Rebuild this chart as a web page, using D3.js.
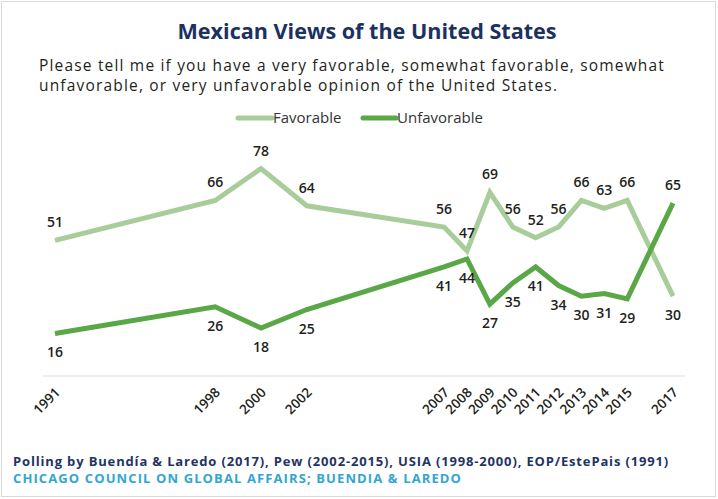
<!DOCTYPE html>
<html>
<head>
<meta charset="utf-8">
<script src="https://cdn.jsdelivr.net/npm/d3@7/dist/d3.min.js"></script>
<style>
  html, body { margin: 0; padding: 0; background: #fff; }
  svg { display: block; }
  text { font-family: "Open Sans", "Noto Sans", sans-serif; }
</style>
</head>
<body>
<svg id="chart" width="718" height="499"></svg>
<script>
// ---- Data ----
const years = [1991, 1998, 2000, 2002, 2007, 2008, 2009, 2010, 2011, 2012, 2013, 2014, 2015, 2017];
const tickLabels = ["1991", "1998", "2000", "2002", "2007", "2008", "2009", "2010", "2011", "2012", "2013", "2014", "2015", "2017"];
const favorable = [51, 66, 78, 64, 56, 47, 69, 56, 52, 56, 66, 63, 66, 30];
const unfavorable = [16, 26, 18, 25, 41, 44, 27, 35, 41, 34, 30, 31, 29, 65];
const seriesNames = ["Favorable", "Unfavorable"];

const titleText = "Mexican Views of the United States";
const subtitleLines = [
  "Please tell me if you have a very favorable, somewhat favorable, somewhat",
  "unfavorable, or very unfavorable opinion of the United States."
];
const footerLines = [
  "Polling by Buendía & Laredo (2017), Pew (2002-2015), USIA (1998-2000), EOP/EstePais (1991)",
  "CHICAGO COUNCIL ON GLOBAL AFFAIRS; BUENDIA & LAREDO"
];

// ---- Setup ----
const W = 718, H = 499;
const colors = { Favorable: "#a8cd9a", Unfavorable: "#5aa747" };
const svg = d3.select("#chart");

svg.append("rect")
  .attr("x", 1.5).attr("y", 1.5).attr("width", W - 4).attr("height", H - 4)
  .attr("fill", "#fff").attr("stroke", "#d9d9d9").attr("stroke-width", 1);

function fitSize(sel, target) {
  const size = parseFloat(sel.attr("font-size"));
  const len = sel.node().getComputedTextLength();
  sel.attr("font-size", (size * target / len).toFixed(2));
}
function fitSpacing(sel, target) {
  const len = sel.node().getComputedTextLength();
  const n = sel.text().length;
  sel.attr("letter-spacing", ((target - len) / n).toFixed(3));
}

// Title
svg.append("text")
  .attr("x", 367).attr("y", 39)
  .attr("text-anchor", "middle")
  .attr("font-size", 21).attr("font-weight", 700)
  .attr("fill", "#1b3160")
  .text(titleText)
  .call(fitSize, 379);

// Subtitle
const sub = subtitleLines.map((s, i) =>
  svg.append("text")
    .attr("x", 39).attr("y", 71 + i * 20)
    .attr("font-family", "Lato, sans-serif")
    .attr("font-size", 15.5).attr("fill", "#231f20")
    .text(s));
fitSpacing(sub[0], 626);
sub[1].attr("letter-spacing", sub[0].attr("letter-spacing"));

// Scales: the axis places 2002 -> 2007 with one extra year-step gap
const step = (673 - 55) / 27;
const x = d3.scaleLinear()
  .domain([1991, 2002, 2007, 2017])
  .range([55, 55 + 11 * step, 55 + 17 * step, 55 + 27 * step]);
const y = d3.scaleLinear().domain([0, 100]).range([376, 110]);

// Baseline
svg.append("line")
  .attr("x1", 43).attr("x2", 685)
  .attr("y1", y(0)).attr("y2", y(0))
  .attr("stroke", "#dcdcdc").attr("stroke-width", 1.2);

// X axis (rotated labels)
const xAxis = d3.axisBottom(x)
  .tickValues(years)
  .tickFormat((d, i) => tickLabels[i])
  .tickSize(0);
const gx = svg.append("g")
  .attr("transform", `translate(0,${y(0) + 14})`)
  .call(xAxis);
gx.select(".domain").remove();
gx.selectAll("text")
  .attr("font-family", "'Open Sans', sans-serif")
  .attr("font-size", 13.5).attr("font-weight", 600)
  .attr("fill", "#231f20")
  .attr("text-anchor", "end")
  .attr("dy", "0.35em")
  .attr("transform", "translate(2,0) rotate(-45)")
  .attr("y", 0).attr("x", 0);

// Lines
const data = {
  Favorable: years.map((yr, i) => ({ year: yr, v: favorable[i] })),
  Unfavorable: years.map((yr, i) => ({ year: yr, v: unfavorable[i] }))
};
const line = d3.line().x(d => x(d.year)).y(d => y(d.v));
seriesNames.forEach(name => {
  svg.append("path")
    .datum(data[name])
    .attr("fill", "none")
    .attr("stroke", colors[name])
    .attr("stroke-width", 5)
    .attr("stroke-linejoin", "miter")
    .attr("d", line);
});

// Data labels: higher series label above, lower below
seriesNames.forEach(name => {
  const vals = name === "Favorable" ? favorable : unfavorable;
  const other = name === "Favorable" ? unfavorable : favorable;
  svg.append("g").selectAll("text")
    .data(years)
    .join("text")
    .attr("x", (d, i) => x(d))
    .attr("y", (d, i) => vals[i] >= other[i] ? y(vals[i]) - 13 : y(vals[i]) + 24)
    .attr("text-anchor", "middle")
    .attr("font-size", 14).attr("font-weight", 600)
    .attr("fill", "#231f20")
    .text((d, i) => vals[i]);
});

// Legend
const legendItems = [
  { name: "Favorable", x0: 238, x1: 272, tx: 273 },
  { name: "Unfavorable", x0: 363, x1: 396, tx: 397 }
];
legendItems.forEach(it => {
  svg.append("line")
    .attr("x1", it.x0).attr("x2", it.x1).attr("y1", 118).attr("y2", 118)
    .attr("stroke", colors[it.name]).attr("stroke-width", 5)
    .attr("stroke-linecap", "round");
  svg.append("text")
    .attr("x", it.tx).attr("y", 123)
    .attr("font-size", 15).attr("fill", "#333")
    .text(it.name);
});

// Footer
const f1 = svg.append("text")
  .attr("x", 13).attr("y", 466)
  .attr("font-family", "Lato, sans-serif")
  .attr("font-size", 13).attr("font-weight", 700)
  .attr("fill", "#1f3465")
  .text(footerLines[0]);
fitSpacing(f1, 656);
const f2 = svg.append("text")
  .attr("x", 13).attr("y", 483)
  .attr("font-family", "Lato, sans-serif")
  .attr("font-size", 13).attr("font-weight", 700)
  .attr("fill", "#31a6cf")
  .text(footerLines[1]);
fitSpacing(f2, 449);
</script>
</body>
</html>
